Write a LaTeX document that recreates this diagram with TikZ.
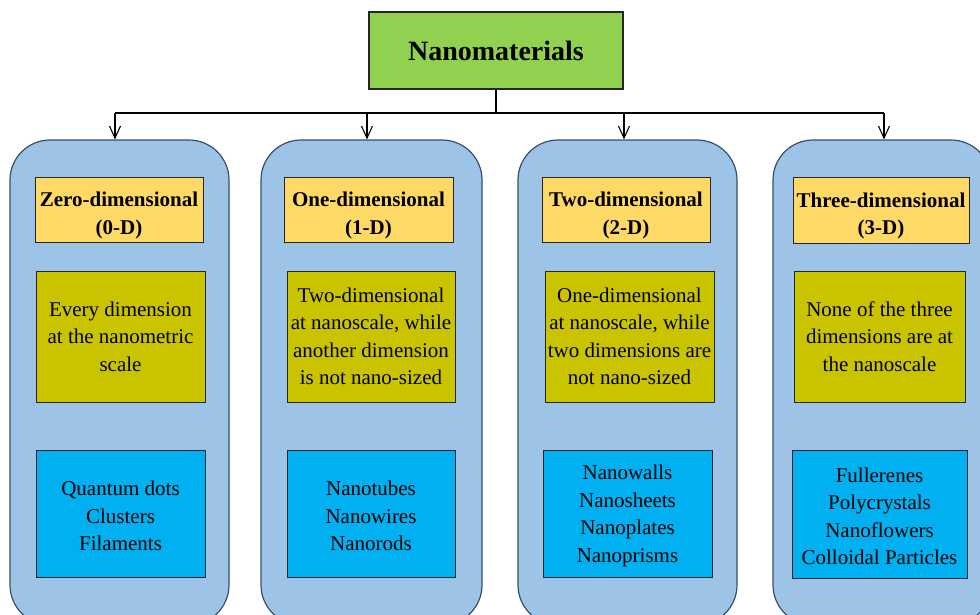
\documentclass[tikz,border=0pt]{standalone}
\usepackage{fontspec}
\setmainfont{Liberation Serif}
\usetikzlibrary{arrows.meta}
\definecolor{titlegreen}{HTML}{92D050}
\definecolor{panelblue}{HTML}{9DC3E6}
\definecolor{paneledge}{HTML}{34506E}
\definecolor{headyellow}{HTML}{FFD966}
\definecolor{descolive}{HTML}{C9C300}
\definecolor{examplecyan}{HTML}{00B0F0}
% taller first lines push the text block down inside its box
\newcommand\headstrut{\rule{0pt}{26.3pt}}
\newcommand\itemstrut{\rule{0pt}{19.3pt}}
\begin{document}
\begin{tikzpicture}[x=1pt,y=-1pt,
  every node/.style={inner sep=0pt, align=center, text=black},
  titlebox/.style={draw=black!85, line width=1.3pt, fill=titlegreen,
    minimum width=254pt, minimum height=77pt,
    font=\fontsize{28}{32}\selectfont\bfseries},
  panel/.style={draw=paneledge, line width=1.2pt, fill=panelblue,
    rounded corners=40pt, minimum height=485pt},
  headbox/.style={draw=black!85, line width=1pt, fill=headyellow,
    minimum height=65pt, font=\fontsize{21}{27.5}\selectfont\bfseries},
  descbox/.style={draw=black!85, line width=1pt, fill=descolive,
    minimum height=131pt, font=\fontsize{21}{27.4}\selectfont},
  examplebox/.style={draw=black!85, line width=1pt, fill=examplecyan,
    minimum height=127pt, font=\fontsize{21}{27.5}\selectfont},
  branch/.style={line width=1.2pt, -{Straight Barb[length=12pt,width=11pt,line width=1.1pt]}},
  link/.style={line width=1.2pt}]
\useasboundingbox (0,0) rectangle (980,614);
\clip (0,0) rectangle (980,614);

% root
\node[titlebox] (root) at (496,50.5) {Nanomaterials};

% category panels
\node[panel, minimum width=219pt] (p1) at (119.5,382.5) {};
\node[panel, minimum width=221pt] (p2) at (371.5,382.5) {};
\node[panel, minimum width=219pt] (p3) at (627.5,382.5) {};
\node[panel, minimum width=218pt] (p4) at (882,382.5) {};

% headers
\node[headbox, minimum width=168pt] (h1) at (119,209.5) {\headstrut Zero-dimensional\\(0-D)};
\node[headbox, minimum width=169pt] (h2) at (368.5,209.5) {\headstrut One-dimensional\\(1-D)};
\node[headbox, minimum width=168pt] (h3) at (626,209.5) {\headstrut Two-dimensional\\(2-D)};
\node[headbox, minimum width=176pt, minimum height=66pt] (h4) at (881,210) {\headstrut Three-dimensional\\(3-D)};

% descriptions
\node[descbox, minimum width=169pt] (d1) at (120.5,336.5) {Every dimension\\at the nanometric\\scale};
\node[descbox, minimum width=168pt] (d2) at (371,336.5) {Two-dimensional\\at nanoscale, while\\another dimension\\is not nano-sized};
\node[descbox, minimum width=169pt] (d3) at (629.5,336.5) {One-dimensional\\at nanoscale, while\\two dimensions are\\not nano-sized};
\node[descbox, minimum width=171pt] (d4) at (879.5,336.5) {None of the three\\dimensions are at\\the nanoscale};

% examples
\node[examplebox, minimum width=169pt] (e1) at (120.5,513.5) {\itemstrut Quantum dots\\Clusters\\Filaments};
\node[examplebox, minimum width=168pt] (e2) at (371,513.5) {\itemstrut Nanotubes\\Nanowires\\Nanorods};
\node[examplebox, minimum width=169pt] (e3) at (627.5,513.5) {\itemstrut Nanowalls\\Nanosheets\\Nanoplates\\Nanoprisms};
\node[examplebox, minimum width=175pt, minimum height=128pt] (e4) at (879.5,514) {\itemstrut Fullerenes\\Polycrystals\\Nanoflowers\\Colloidal Particles};

% connectors
\coordinate (bus) at (root.south |- 0,113);
\coordinate (b1) at (115,113);
\coordinate (b2) at (367,113);
\coordinate (b3) at (624,113);
\coordinate (b4) at (884,113);
\draw[link] (root.south) -- (bus);
\draw[link] (b1) -- (b4);
\draw[branch] (b1) -- (b1 |- p1.north);
\draw[branch] (b2) -- (b2 |- p2.north);
\draw[branch] (b3) -- (b3 |- p3.north);
\draw[branch] (b4) -- (b4 |- p4.north);
\end{tikzpicture}
\end{document}
